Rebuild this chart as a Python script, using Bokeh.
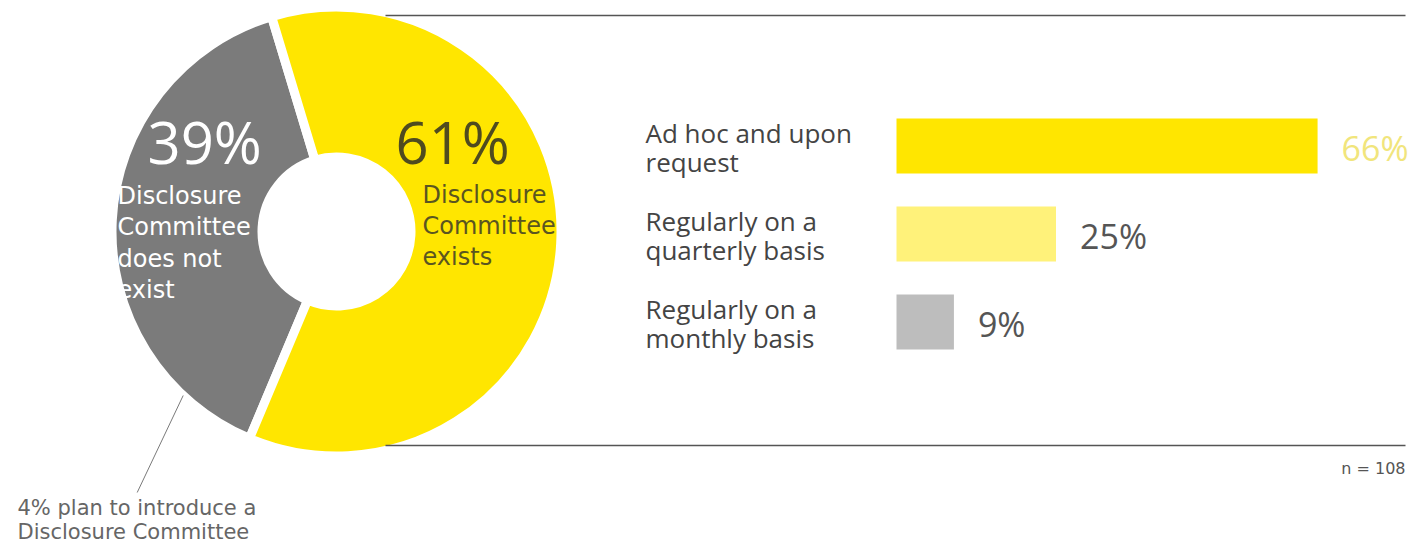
import numpy as np
from bokeh.plotting import figure
from bokeh.models import Range1d, ColumnDataSource
from bokeh.core.properties import value
from bokeh.embed import file_html
from bokeh.resources import INLINE

# ---------------- data ----------------
donut_labels = ["Disclosure\nCommittee\ndoes not\nexist", "Disclosure\nCommittee\nexists"]
donut_values = [39, 61]
bar_categories = ["Ad hoc and upon\nrequest", "Regularly on a\nquarterly basis", "Regularly on a\nmonthly basis"]
bar_values = [66, 25, 9]
sample_note = "n = 108"
footnote_lines = ["4% plan to introduce a", "Disclosure Committee"]

# ---------------- layout / style ----------------
W, H = 1424, 546
def fy(ypx):  # pixel-from-top -> data y
    return H - ypx

YELLOW = "#ffe600"
GRAY = "#7b7b7b"
slice_colors = [GRAY, YELLOW]
pct_text_colors = ["#ffffff", "#4f4b1f"]
desc_text_colors = ["#ffffff", "#5a5520"]
bar_colors = ["#ffe600", "#fff27a", "#bdbdbd"]
bar_label_colors = ["#f1e57c", "#555555", "#555555"]

CX, CY = 336, fy(231)
R_OUT, R_IN = 224.5, 74.5
START_DEG = 106.8

BAR_X0 = 896
PX_PER_PCT = 6.38
ROW0, ROW_STEP = 145.5, 88.0

p = figure(width=W, height=H, x_range=Range1d(0, W), y_range=Range1d(0, H),
           output_backend="svg", toolbar_location=None,
           x_axis_location=None, y_axis_location=None, min_border=0,
           background_fill_color="white", border_fill_color="white",
           outline_line_color=None)
p.grid.visible = False

p.extra_x_ranges = {"pct": Range1d(start=-BAR_X0 / PX_PER_PCT, end=(W - BAR_X0) / PX_PER_PCT)}
p.extra_y_ranges = {"rows": Range1d(start=(H - ROW0) / ROW_STEP, end=-ROW0 / ROW_STEP)}

# ---------------- donut ----------------
fr = np.array(donut_values, dtype=float) / sum(donut_values)
ends = START_DEG + 360 * np.cumsum(fr)
starts = ends - 360 * fr
dsrc = ColumnDataSource(dict(start=starts, end=ends, color=slice_colors))
p.annular_wedge(x=CX, y=CY, inner_radius=R_IN, outer_radius=R_OUT,
                start_angle="start", end_angle="end",
                start_angle_units="deg", end_angle_units="deg",
                direction="anticlock", fill_color="color",
                line_color="white", line_width=9, source=dsrc)

# leader line for footnote
p.segment(x0=[182.7], y0=[fy(395)], x1=[136.7], y1=[fy(492)], line_color="#7a7a7a", line_width=1)

# donut texts (positions are vertical centres of the lines)
pct_pos = [(147, fy(141)), (395, fy(141))]
desc_pos = [(117, fy(195)), (422, fy(194))]
desc_step = [31.5, 31.0]
for i in range(len(donut_values)):
    p.text(x=[pct_pos[i][0]], y=[pct_pos[i][1]], text=[f"{donut_values[i]}%"],
           text_font=value("Open Sans"), text_font_size="58px",
           text_color=pct_text_colors[i], text_baseline="middle", text_align="left")
    for j, line in enumerate(donut_labels[i].split("\n")):
        p.text(x=[desc_pos[i][0]], y=[desc_pos[i][1] - j * desc_step[i]], text=[line],
               text_font=value("DejaVu Sans"), text_font_size="24px",
               text_color=desc_text_colors[i], text_baseline="middle", text_align="left")

# ---------------- bars ----------------
rows = list(range(len(bar_values)))
bsrc = ColumnDataSource(dict(row=rows, value=bar_values,
                             line1=[c.split("\n")[0] for c in bar_categories],
                             line2=[c.split("\n")[1] for c in bar_categories],
                             label=[f"{v}%" for v in bar_values],
                             color=bar_colors, lcolor=bar_label_colors))
p.hbar(y="row", left=0, right="value", height=0.625, fill_color="color", line_color=None,
       source=bsrc, x_range_name="pct", y_range_name="rows")
p.text(x="value", y="row", text="label", x_offset=24, y_offset=2, source=bsrc,
       x_range_name="pct", y_range_name="rows",
       text_font=value("Open Sans"), text_font_size="34px", text_color="lcolor",
       text_baseline="middle", text_align="left")
for col, off in (("line1", -13), ("line2", 16)):
    p.text(x=645, y="row", text=col, source=bsrc, y_range_name="rows", y_offset=off,
           text_font=value("Open Sans"), text_font_size="26px", text_color="#444444",
           text_baseline="middle", text_align="left")

# ---------------- rules & notes ----------------
p.segment(x0=[385, 385], y0=[fy(15), fy(445)], x1=[1405, 1405], y1=[fy(15), fy(445)],
          line_color="#555555", line_width=1.5)
p.text(x=[1405], y=[fy(468)], text=[sample_note], text_font=value("DejaVu Sans"),
       text_font_size="16px", text_color="#555555", text_baseline="middle", text_align="right")
for j, line in enumerate(footnote_lines):
    p.text(x=[17], y=[fy(507 + j * 24)], text=[line], text_font=value("DejaVu Sans"),
           text_font_size="21px", text_color="#666666", text_baseline="middle", text_align="left")

open("out.html", "w").write(file_html(p, INLINE))
